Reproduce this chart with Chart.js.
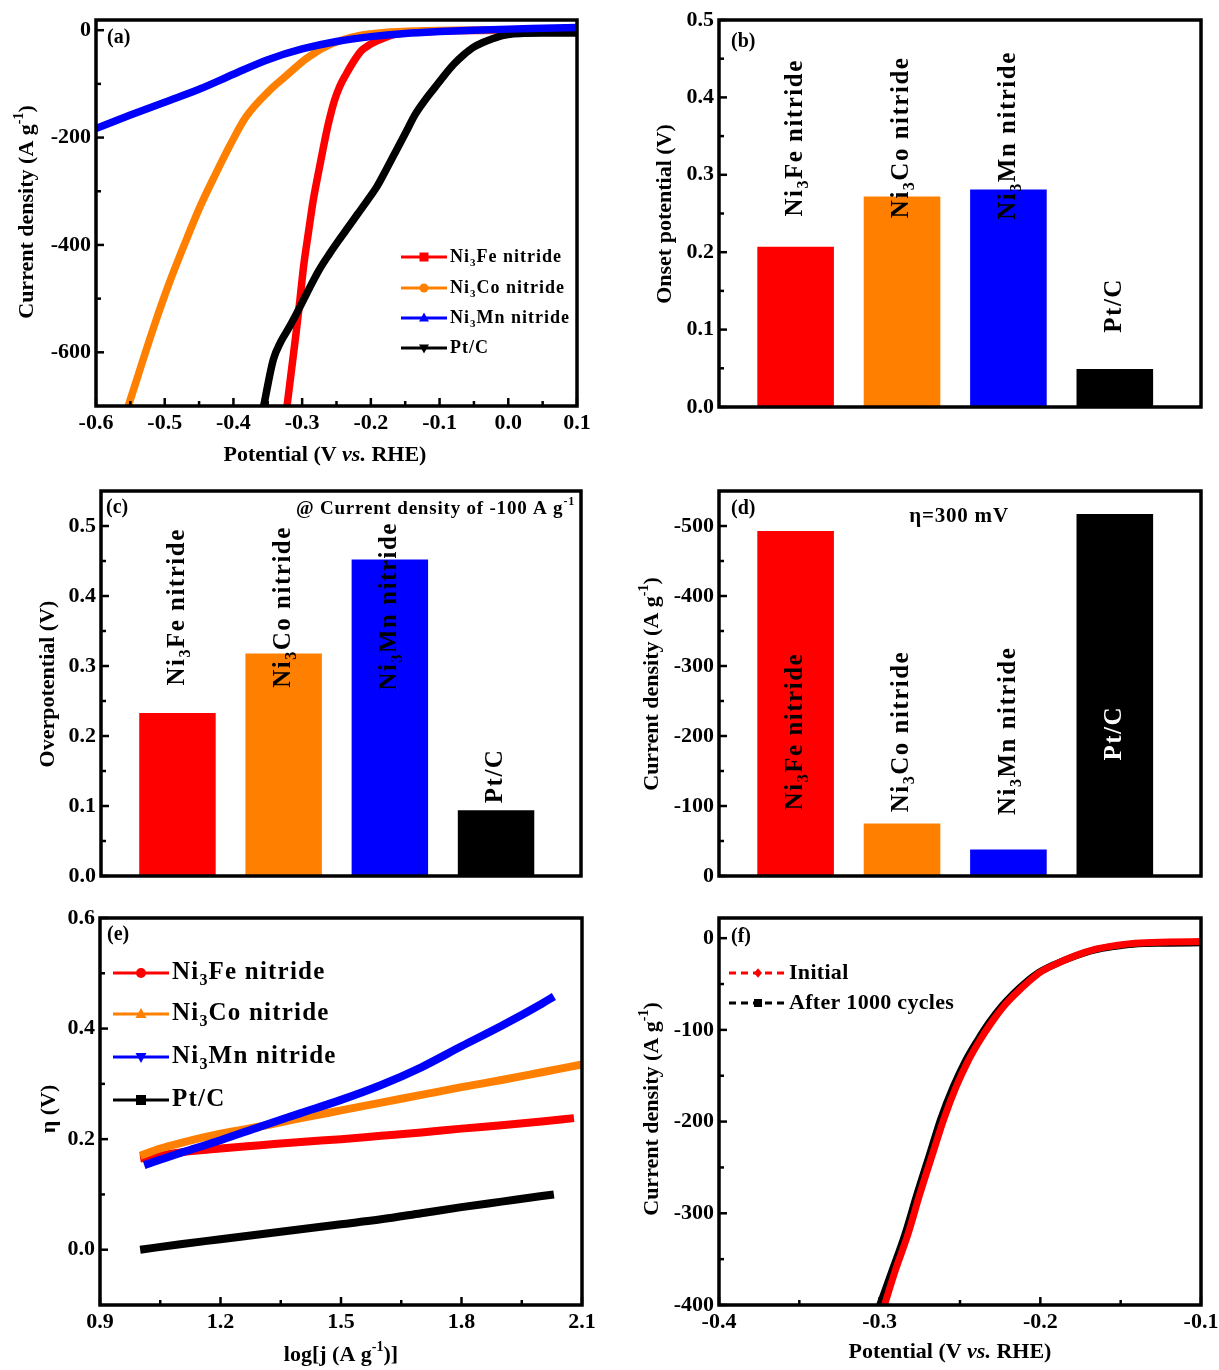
<!DOCTYPE html>
<html><head><meta charset="utf-8">
<script src="https://cdn.jsdelivr.net/npm/chart.js@4.4.1/dist/chart.umd.min.js"></script>
<style>
html,body{margin:0;padding:0;background:#fff;}
body{width:1219px;height:1370px;position:relative;overflow:hidden;}
canvas{position:absolute;}
</style></head><body>
<canvas id="ca"></canvas><canvas id="cb"></canvas><canvas id="cc"></canvas>
<canvas id="cd"></canvas><canvas id="ce"></canvas><canvas id="cf"></canvas>
<script>
// ================= DATA =================
const categories = ['Ni3Fe nitride','Ni3Co nitride','Ni3Mn nitride','Pt/C'];
const categoryPos = [1,2,3,4];
const barColors = ['#ff0000','#ff8000','#0000ff','#000000'];

// (a) polarization curves: potential (V vs RHE) / current density (A g-1)
const aFeX = [-0.322,-0.316,-0.309,-0.303,-0.298,-0.291,-0.284,-0.277,-0.270,-0.262,-0.253,-0.245,-0.236,-0.225,-0.214,-0.203,-0.191,-0.177,-0.163,-0.145,-0.124,-0.09,-0.05,0.0,0.05,0.1];
const aFeY = [-700,-638,-566,-500,-441,-378,-318,-270,-224,-175,-131,-104,-82,-58,-38.5,-28,-20,-12.5,-7.4,-4.5,-2.5,-1.2,-0.5,0,0,0];
const aCoX = [-0.553,-0.538,-0.516,-0.494,-0.471,-0.449,-0.426,-0.404,-0.382,-0.348,-0.326,-0.292,-0.258,-0.219,-0.180,-0.124,-0.06,0.0,0.05,0.1];
const aCoY = [-700,-640,-553,-473,-398,-330,-268,-212,-162,-113,-88,-51,-26,-10.5,-4.3,-1.2,0,0.5,1,1];
const aMnX = [-0.6,-0.55,-0.5,-0.45,-0.4,-0.35,-0.3,-0.25,-0.2,-0.15,-0.1,-0.05,0.0,0.05,0.1];
const aMnY = [-183,-158,-134,-110,-82,-55,-35,-21,-12,-6,-2.5,0,2,3.5,5];
const aPtX = [-0.356,-0.342,-0.331,-0.320,-0.305,-0.290,-0.275,-0.261,-0.247,-0.233,-0.219,-0.205,-0.191,-0.177,-0.163,-0.149,-0.135,-0.121,-0.107,-0.093,-0.079,-0.065,-0.051,-0.037,-0.023,-0.009,0.005,0.025,0.05,0.075,0.1];
const aPtY = [-700,-614,-580,-556,-520,-482,-446,-418,-392,-367,-342,-317,-291,-258,-224,-190,-156,-130,-107,-84,-63,-46,-32,-23,-16,-10,-7,-5.5,-5,-5,-5];
const aXTicks = [-0.6,-0.5,-0.4,-0.3,-0.2,-0.1,0.0,0.1];
const aXTickLabels = ['-0.6','-0.5','-0.4','-0.3','-0.2','-0.1','0.0','0.1'];
const aXMinor = [-0.55,-0.45,-0.35,-0.25,-0.15,-0.05,0.05];
const aYTicks = [0,-200,-400,-600];
const aYTickLabels = ['0','-200','-400','-600'];
const aYMinor = [-100,-300,-500];

// (b) onset potential (V)
const onsetPotential = [0.207,0.272,0.281,0.049];
const bYTicks = [0,0.1,0.2,0.3,0.4,0.5];
const bYTickLabels = ['0.0','0.1','0.2','0.3','0.4','0.5'];
const bYMinor = [0.05,0.15,0.25,0.35,0.45];

// (c) overpotential (V) @ -100 A g-1
const overpotential = [0.233,0.318,0.452,0.094];
const cYTicks = [0,0.1,0.2,0.3,0.4,0.5];
const cYTickLabels = ['0.0','0.1','0.2','0.3','0.4','0.5'];
const cYMinor = [0.05,0.15,0.25,0.35,0.45];

// (d) current density at eta = 300 mV (A g-1)
const currentAt300 = [-493,-75,-38,-517];
const dYTicks = [0,-100,-200,-300,-400,-500];
const dYTickLabels = ['0','-100','-200','-300','-400','-500'];
const dYMinor = [-50,-150,-250,-350,-450];

// (e) Tafel plots: log j / eta (V)
const eFeX = [1.0,1.05,1.1,1.2,1.3,1.4,1.5,1.6,1.7,1.8,1.9,2.0,2.08];
const eFeY = [0.165,0.171,0.176,0.183,0.189,0.195,0.200,0.206,0.212,0.219,0.225,0.232,0.238];
const eCoX = [1.0,1.05,1.1,1.2,1.3,1.4,1.5,1.6,1.7,1.8,1.9,2.0,2.1];
const eCoY = [0.170,0.183,0.193,0.210,0.223,0.238,0.252,0.266,0.280,0.294,0.307,0.321,0.335];
const eMnX = [1.01,1.1,1.2,1.3,1.4,1.5,1.6,1.7,1.8,1.9,2.0,2.03];
const eMnY = [0.153,0.175,0.198,0.223,0.247,0.271,0.298,0.330,0.368,0.405,0.445,0.458];
const ePtX = [1.0,1.1,1.2,1.3,1.4,1.5,1.6,1.7,1.8,1.9,2.0,2.03];
const ePtY = [0.000,0.010,0.019,0.028,0.037,0.046,0.055,0.066,0.077,0.087,0.097,0.100];
const eXTicks = [0.9,1.2,1.5,1.8,2.1];
const eXTickLabels = ['0.9','1.2','1.5','1.8','2.1'];
const eXMinor = [1.05,1.35,1.65,1.95];
const eYTicks = [0.0,0.2,0.4,0.6];
const eYTickLabels = ['0.0','0.2','0.4','0.6'];
const eYMinor = [0.1,0.3,0.5];

// (f) stability: initial vs after 1000 cycles
const fInitX = [-0.297,-0.290,-0.2826,-0.275,-0.2672,-0.260,-0.2524,-0.245,-0.2375,-0.230,-0.2226,-0.215,-0.208,-0.200,-0.190,-0.178,-0.1655,-0.153,-0.141,-0.120,-0.100];
const fInitY = [-400,-361,-324,-279,-236,-197,-162,-134,-111,-91,-74,-60,-48.5,-37,-28,-19,-12,-8,-5.5,-4.3,-3.7];
const fAfterX = [-0.300,-0.292,-0.2845,-0.2768,-0.269,-0.262,-0.2542,-0.2467,-0.239,-0.2315,-0.224,-0.2165,-0.2093,-0.201,-0.191,-0.179,-0.1665,-0.154,-0.142,-0.120,-0.100];
const fAfterY = [-400,-361,-324,-279,-236,-197,-162,-134,-111,-91,-74,-60,-48.5,-37.5,-28.5,-20,-13,-9,-6.5,-5.5,-5];
const fXTicks = [-0.4,-0.3,-0.2,-0.1];
const fXTickLabels = ['-0.4','-0.3','-0.2','-0.1'];
const fXMinor = [-0.35,-0.25,-0.15];
const fYTicks = [0,-100,-200,-300,-400];
const fYTickLabels = ['0','-100','-200','-300','-400'];
const fYMinor = [-50,-150,-250,-350];

// ================= LAYOUT =================
const FONT = '"Liberation Serif","Times New Roman",Times,serif';
Chart.defaults.font.family = FONT;
Chart.defaults.font.weight = 'bold';
Chart.defaults.font.size = 22;
Chart.defaults.color = '#000';
Chart.defaults.animation = false;

const P = {
  a:{cx:0,   cy:0,   cw:609, ch:470, L:96,  T:20,  R:577,  B:406},
  b:{cx:609, cy:0,   cw:610, ch:470, L:719, T:20,  R:1201, B:407},
  c:{cx:0,   cy:470, cw:609, ch:430, L:101, T:491, R:581,  B:876},
  d:{cx:609, cy:470, cw:610, ch:430, L:719, T:491, R:1201, B:876},
  e:{cx:0,   cy:900, cw:609, ch:470, L:100, T:918, R:582,  B:1305},
  f:{cx:609, cy:900, cw:610, ch:470, L:719, T:918, R:1201, B:1305}
};

const sub3 = (a,b)=>[{t:a},{t:'3',sub:true},{t:b}];
const catSegs = [sub3('Ni','Fe nitride'), sub3('Ni','Co nitride'), sub3('Ni','Mn nitride'), [{t:'Pt/C'}]];
const jTitle = [{t:'Current density (A g'},{t:'-1',sup:true},{t:')'}];
const potTitle = [{t:'Potential (V '},{t:'vs.',it:true},{t:' RHE)'}];

// ================= HELPERS =================
function segFont(seg,size){
  const s = (seg.sup||seg.sub) ? Math.round(size*0.62) : size;
  return (seg.it?'italic ':'')+'bold '+s+'px '+FONT;
}
function richWidth(ctx,segs,size,ls){
  ctx.save(); ctx.letterSpacing=(ls||0)+'px';
  let w=0; for(const s of segs){ctx.font=segFont(s,size); w+=ctx.measureText(s.t).width;}
  ctx.restore(); return w;
}
function drawRich(ctx,segs,x,y,o){
  const size=o.size, ls=o.ls||0;
  const w=richWidth(ctx,segs,size,ls);
  ctx.save();
  ctx.translate(x,y); if(o.rot) ctx.rotate(o.rot);
  ctx.letterSpacing=ls+'px';
  ctx.fillStyle=o.color||'#000';
  ctx.textBaseline='middle'; ctx.textAlign='left';
  let cx = o.align==='center' ? -w/2 : (o.align==='right' ? -w : 0);
  for(const s of segs){
    ctx.font=segFont(s,size);
    const dy = s.sup ? -size*0.36 : (s.sub ? size*0.32 : 0);
    ctx.fillText(s.t,cx,dy);
    cx+=ctx.measureText(s.t).width;
  }
  ctx.restore();
}
function marker(ctx,type,x,y,s,color){
  ctx.save(); ctx.fillStyle=color; ctx.beginPath();
  if(type==='square'){ctx.rect(x-s,y-s,2*s,2*s);}
  else if(type==='circle'){ctx.arc(x,y,s,0,Math.PI*2);}
  else if(type==='triUp'){ctx.moveTo(x,y-s*1.2);ctx.lineTo(x+s*1.1,y+s*0.8);ctx.lineTo(x-s*1.1,y+s*0.8);ctx.closePath();}
  else if(type==='triDown'){ctx.moveTo(x,y+s*1.2);ctx.lineTo(x+s*1.1,y-s*0.8);ctx.lineTo(x-s*1.1,y-s*0.8);ctx.closePath();}
  else if(type==='diamond'){ctx.moveTo(x,y-s*1.2);ctx.lineTo(x+s,y);ctx.lineTo(x,y+s*1.2);ctx.lineTo(x-s,y);ctx.closePath();}
  ctx.fill(); ctx.restore();
}

const deco = {
  id:'deco',
  afterDatasetsDraw(chart){
    const o=chart.options.plugins.deco; if(!o) return;
    const ctx=chart.ctx, a=chart.chartArea, xs=chart.scales.x, ys=chart.scales.y;
    ctx.save(); ctx.strokeStyle='#000'; ctx.lineCap='butt';
    const seg=(x1,y1,x2,y2)=>{ctx.beginPath();ctx.moveTo(x1,y1);ctx.lineTo(x2,y2);ctx.stroke();};
    ctx.lineWidth=2.5;
    (o.xMajor||[]).forEach(v=>{const px=xs.getPixelForValue(v); seg(px,a.bottom,px,a.bottom-8);});
    (o.xMinor||[]).forEach(v=>{const px=xs.getPixelForValue(v); seg(px,a.bottom,px,a.bottom-5);});
    (o.yMajor||[]).forEach(v=>{const py=ys.getPixelForValue(v); seg(a.left,py,a.left+8,py);});
    (o.yMinor||[]).forEach(v=>{const py=ys.getPixelForValue(v); seg(a.left,py,a.left+5,py);});
    ctx.lineWidth=3.5;
    ctx.strokeRect(a.left,a.top,a.right-a.left,a.bottom-a.top);
    ctx.restore();
  },
  afterDraw(chart){
    const o=chart.options.plugins.deco; if(!o) return;
    const ctx=chart.ctx, xs=chart.scales.x, ys=chart.scales.y;
    const ox=o.off[0], oy=o.off[1];
    (o.texts||[]).forEach(t=>drawRich(ctx,t.segs,t.x-ox,t.y-oy,t));
    (o.barLabels||[]).forEach(b=>{
      drawRich(ctx,b.segs,xs.getPixelForValue(b.x),ys.getPixelForValue(b.y),{size:b.size,ls:b.ls,rot:-Math.PI/2,align:'left',color:b.color});
    });
    if(o.legend){
      const L=o.legend;
      L.rows.forEach(r=>{
        ctx.save(); ctx.strokeStyle=r.color; ctx.lineWidth=L.lw||3;
        if(r.dash) ctx.setLineDash(r.dash);
        ctx.beginPath(); ctx.moveTo(L.x0-ox,r.y-oy); ctx.lineTo(L.x1-ox,r.y-oy); ctx.stroke(); ctx.restore();
        marker(ctx,r.marker,L.mx-ox,r.y-oy,L.ms,r.color);
        drawRich(ctx,r.segs,L.tx-ox,r.y-oy,{size:L.size,ls:L.ls,align:'left'});
      });
    }
  }
};
Chart.register(deco);

function axis(p,dir,min,max,vals,labels,extra){
  const ax={type:'linear',min:min,max:max,offset:false,
    grid:{display:false,drawTicks:false,offset:false},border:{display:false},
    ticks:{display:!!labels,padding:dir==='x'?4:5,autoSkip:false,maxRotation:0,minRotation:0,
      font:{size:22,weight:'bold',family:FONT},color:'#000',
      callback:(v,i)=> labels ? labels[i] : ''},
    afterFit(s){
      if(dir==='x') s.height=p.cy+p.ch-p.B; else s.width=p.L-p.cx;
      s.paddingLeft=0;s.paddingRight=0;s.paddingTop=0;s.paddingBottom=0;
    }};
  if(vals) ax.afterBuildTicks=(s)=>{s.ticks=vals.map(v=>({value:v}));};
  return Object.assign(ax,extra||{});
}
function baseOpts(p,scales,deco){
  deco.off=[p.cx,p.cy];
  return {responsive:false,animation:false,
    layout:{padding:{left:0,bottom:0,top:p.T-p.cy,right:p.cx+p.cw-p.R}},
    scales:scales,
    plugins:{legend:{display:false},tooltip:{enabled:false},deco:deco}};
}
function make(id,p,type,datasets,opts){
  const cv=document.getElementById(id);
  cv.width=p.cw; cv.height=p.ch;
  cv.style.left=p.cx+'px'; cv.style.top=p.cy+'px';
  cv.style.width=p.cw+'px'; cv.style.height=p.ch+'px';
  return new Chart(cv,{type:type,data:{datasets:datasets},options:opts});
}
const pts=(xs,ys)=>xs.map((x,i)=>({x:x,y:ys[i]}));
function lineDs(xs,ys,color,order,w){
  return {data:pts(xs,ys),borderColor:color,backgroundColor:color,borderWidth:w,pointRadius:0,
    cubicInterpolationMode:'monotone',fill:false,order:order};
}
function barDs(vals){
  return {data:vals.map((v,i)=>({x:categoryPos[i],y:v})),backgroundColor:barColors,borderWidth:0,
    barPercentage:0.72,categoryPercentage:1.0};
}

// ================= (a) =================
make('ca',P.a,'line',[
  lineDs(aFeX,aFeY,barColors[0],3,7.5),
  lineDs(aCoX,aCoY,barColors[1],2,7.5),
  lineDs(aMnX,aMnY,barColors[2],0,7.5),
  lineDs(aPtX,aPtY,barColors[3],1,7.5)
], baseOpts(P.a,{
  x:axis(P.a,'x',-0.6,0.1,aXTicks,aXTickLabels),
  y:axis(P.a,'y',-700,19,aYTicks,aYTickLabels)
},{
  xMajor:aXTicks,xMinor:aXMinor,yMajor:aYTicks,yMinor:aYMinor,
  texts:[
    {segs:[{t:'(a)'}],x:107,y:38,size:20,align:'left'},
    {segs:jTitle,x:27,y:212,size:22,rot:-Math.PI/2,align:'center'},
    {segs:potTitle,x:325,y:455,size:22,align:'center'}
  ],
  legend:{x0:401,x1:447,mx:424,tx:450,size:18,ls:1,ms:4.5,lw:3,rows:[
    {y:257,color:barColors[0],marker:'square',segs:catSegs[0]},
    {y:288,color:barColors[1],marker:'circle',segs:catSegs[1]},
    {y:318,color:barColors[2],marker:'triUp',segs:catSegs[2]},
    {y:348,color:barColors[3],marker:'triDown',segs:catSegs[3]}
  ]}
}));

// ================= (b) =================
make('cb',P.b,'bar',[barDs(onsetPotential)], baseOpts(P.b,{
  x:axis(P.b,'x',0.28,4.81,categoryPos,null),
  y:axis(P.b,'y',0,0.5,bYTicks,bYTickLabels)
},{
  yMajor:bYTicks,yMinor:bYMinor,
  texts:[
    {segs:[{t:'(b)'}],x:731,y:42,size:20,align:'left'},
    {segs:[{t:'Onset potential (V)'}],x:665,y:214,size:22,rot:-Math.PI/2,align:'center'}
  ],
  barLabels:[
    {x:1,y:0.246,segs:catSegs[0],size:25,ls:1.5},
    {x:2,y:0.244,segs:catSegs[1],size:25,ls:1.5},
    {x:3,y:0.242,segs:catSegs[2],size:25,ls:1.5},
    {x:4,y:0.096,segs:catSegs[3],size:25,ls:1.5}
  ]
}));

// ================= (c) =================
make('cc',P.c,'bar',[barDs(overpotential)], baseOpts(P.c,{
  x:axis(P.c,'x',0.28,4.80,categoryPos,null),
  y:axis(P.c,'y',0,0.55,cYTicks,cYTickLabels)
},{
  yMajor:cYTicks,yMinor:cYMinor,
  texts:[
    {segs:[{t:'(c)'}],x:106,y:508,size:20,align:'left'},
    {segs:[{t:'@ Current density of -100 A g'},{t:'-1',sup:true}],x:575,y:509,size:19,ls:0.8,align:'right'},
    {segs:[{t:'Overpotential (V)'}],x:48,y:684,size:22,rot:-Math.PI/2,align:'center'}
  ],
  barLabels:[
    {x:1,y:0.272,segs:catSegs[0],size:25,ls:1.5},
    {x:2,y:0.269,segs:catSegs[1],size:25,ls:1.5},
    {x:3,y:0.265,segs:catSegs[2],size:25,ls:1.5},
    {x:4,y:0.104,segs:catSegs[3],size:25,ls:1.5}
  ]
}));

// ================= (d) =================
make('cd',P.d,'bar',[barDs(currentAt300)], baseOpts(P.d,{
  x:axis(P.d,'x',0.28,4.81,categoryPos,null),
  y:axis(P.d,'y',-550,0,dYTicks,dYTickLabels,{reverse:true})
},{
  yMajor:dYTicks,yMinor:dYMinor,
  texts:[
    {segs:[{t:'(d)'}],x:731,y:509,size:20,align:'left'},
    {segs:[{t:'η=300 mV'}],x:959,y:517,size:21,ls:0.8,align:'center'},
    {segs:jTitle,x:652,y:684,size:22,rot:-Math.PI/2,align:'center'}
  ],
  barLabels:[
    {x:1,y:-94,segs:catSegs[0],size:25,ls:1.5},
    {x:2,y:-91,segs:catSegs[1],size:25,ls:1.5},
    {x:3,y:-87,segs:catSegs[2],size:25,ls:1.5},
    {x:4,y:-165,segs:catSegs[3],size:25,ls:1.5,color:'#ffffff'}
  ]
}));

// ================= (e) =================
make('ce',P.e,'line',[
  lineDs(eFeX,eFeY,barColors[0],2,8),
  lineDs(eCoX,eCoY,barColors[1],1,8),
  lineDs(eMnX,eMnY,barColors[2],0,8),
  lineDs(ePtX,ePtY,barColors[3],3,8)
], baseOpts(P.e,{
  x:axis(P.e,'x',0.9,2.1,eXTicks,eXTickLabels),
  y:axis(P.e,'y',-0.1,0.6,eYTicks,eYTickLabels)
},{
  xMajor:eXTicks,xMinor:eXMinor,yMajor:eYTicks,yMinor:eYMinor,
  texts:[
    {segs:[{t:'(e)'}],x:107,y:935,size:20,align:'left'},
    {segs:[{t:'η (V)'}],x:49,y:1109,size:22,rot:-Math.PI/2,align:'center'},
    {segs:[{t:'log[j (A g'},{t:'-1',sup:true},{t:')]'}],x:341,y:1355,size:22,align:'center'}
  ],
  legend:{x0:113,x1:169,mx:141,tx:172,size:25,ls:1.2,ms:5,lw:3,rows:[
    {y:973,color:barColors[0],marker:'circle',segs:catSegs[0]},
    {y:1014,color:barColors[1],marker:'triUp',segs:catSegs[1]},
    {y:1057,color:barColors[2],marker:'triDown',segs:catSegs[2]},
    {y:1100,color:barColors[3],marker:'square',segs:catSegs[3]}
  ]}
}));

// ================= (f) =================
make('cf',P.f,'line',[
  lineDs(fInitX,fInitY,'#ff0000',0,7),
  lineDs(fAfterX,fAfterY,'#000000',1,7)
], baseOpts(P.f,{
  x:axis(P.f,'x',-0.4,-0.1,fXTicks,fXTickLabels),
  y:axis(P.f,'y',-400,22,fYTicks,fYTickLabels)
},{
  xMajor:fXTicks,xMinor:fXMinor,yMajor:fYTicks,yMinor:fYMinor,
  texts:[
    {segs:[{t:'(f)'}],x:731,y:937,size:20,align:'left'},
    {segs:jTitle,x:652,y:1109,size:22,rot:-Math.PI/2,align:'center'},
    {segs:potTitle,x:950,y:1352,size:22,align:'center'}
  ],
  legend:{x0:729,x1:787,mx:758,tx:789,size:22,ls:0.3,ms:4,lw:3,rows:[
    {y:973,color:'#ff0000',marker:'diamond',dash:[7,5],segs:[{t:'Initial'}]},
    {y:1003,color:'#000000',marker:'square',dash:[7,5],segs:[{t:'After 1000 cycles'}]}
  ]}
}));
</script>
</body></html>
